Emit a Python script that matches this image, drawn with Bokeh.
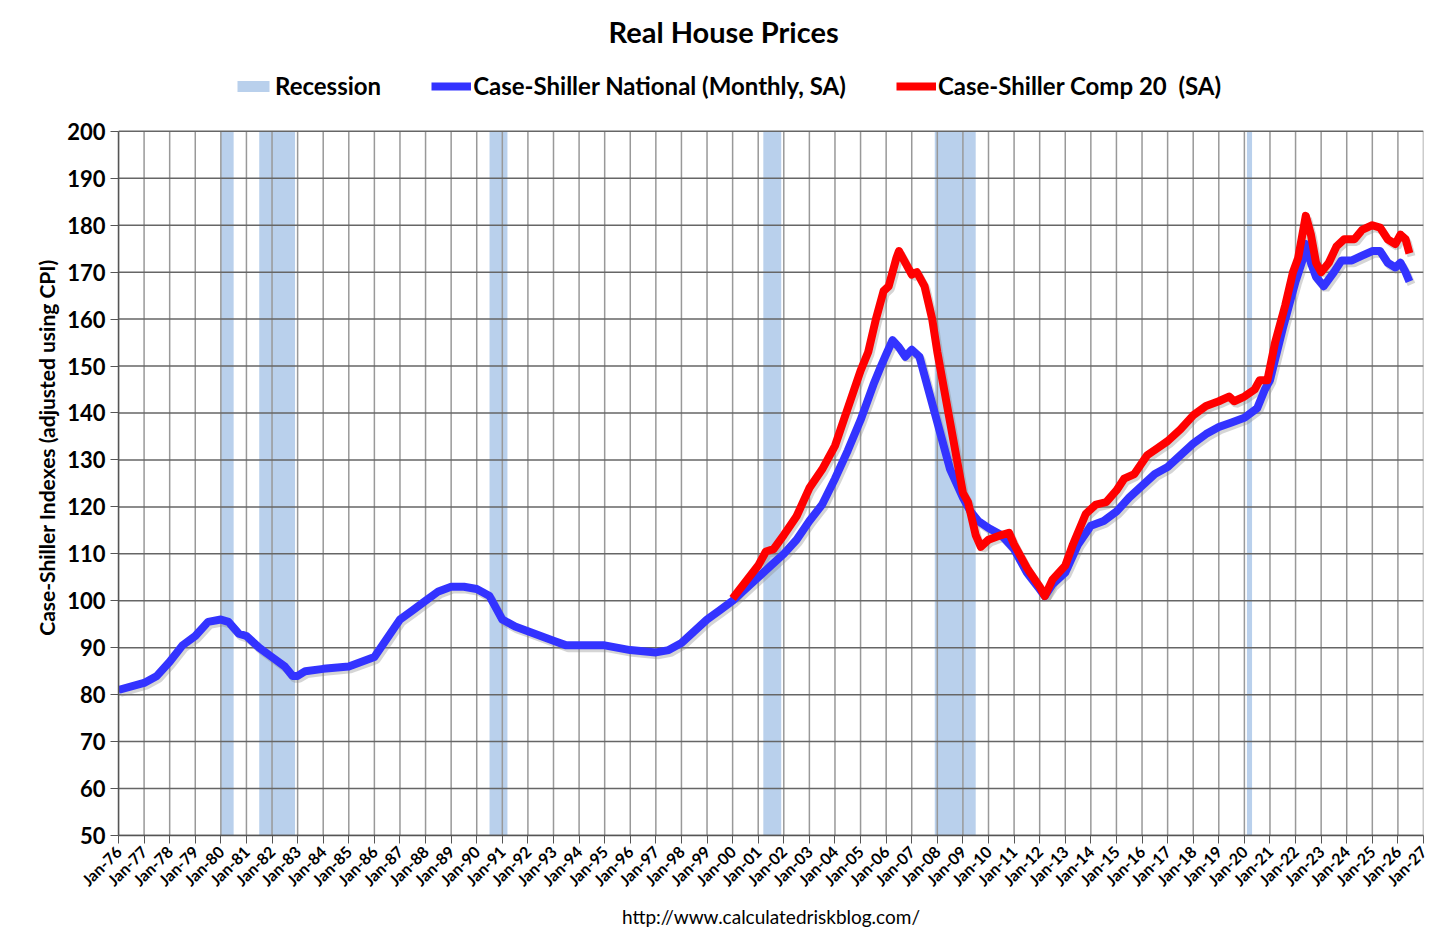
import numpy as np
from bokeh.plotting import figure
from bokeh.models import Legend, LegendItem, FixedTicker, Range1d, Title
from bokeh.embed import file_html
from bokeh.resources import INLINE

nat_x = [1976.0,1977.0,1977.5,1978.0,1978.5,1979.0,1979.5,1980.0,1980.3,1980.7,1981.0,1981.5,1982.0,1982.5,1982.8,1983.0,1983.3,1984.0,1985.0,1986.0,1986.5,1987.0,1987.5,1988.0,1988.5,1989.0,1989.5,1990.0,1990.5,1991.0,1991.5,1992.0,1992.5,1993.0,1993.5,1994.0,1995.0,1996.0,1997.0,1997.5,1998.0,1998.5,1999.0,1999.5,2000.0,2000.5,2001.0,2001.5,2002.0,2002.5,2003.0,2003.5,2004.0,2004.5,2005.0,2005.5,2005.8,2006.0,2006.25,2006.5,2006.75,2007.0,2007.3,2007.6,2008.0,2008.5,2009.0,2009.3,2009.6,2010.0,2010.5,2011.0,2011.5,2012.0,2012.2,2012.5,2013.0,2013.5,2014.0,2014.5,2015.0,2015.5,2016.0,2016.5,2017.0,2017.5,2018.0,2018.5,2019.0,2019.5,2020.0,2020.5,2020.8,2021.0,2021.5,2022.0,2022.3,2022.4,2022.6,2022.8,2023.1,2023.5,2023.8,2024.2,2024.6,2025.0,2025.3,2025.6,2025.9,2026.1,2026.3,2026.45]
nat_y = [81,82.5,84,87,90.5,92.5,95.5,96,95.5,93,92.5,90,88,86,84,84,85,85.5,86,88,92,96,98,100,102,103,103,102.5,101,96,94.5,93.5,92.5,91.5,90.5,90.5,90.5,89.5,89,89.5,91,93.5,96,98,100,102.5,105,107.5,110,113,117,120.5,126,132,138.5,146,150,152.5,155.5,154,152,153.5,152,146,138,128,122,119,117,115.5,114,111,106,102.5,101,103.5,106,112,116,117,119,122,124.5,127,128.5,131,133.5,135.5,137,138,139,141,145,147,158,168,173,176,172,169,167,170,172.5,172.5,173.5,174.5,174.5,172,171,172,170,168]

c20_x = [2000.0,2000.5,2001.0,2001.3,2001.6,2002.0,2002.5,2003.0,2003.5,2004.0,2004.5,2005.0,2005.3,2005.6,2005.9,2006.1,2006.4,2006.5,2006.75,2007.0,2007.2,2007.5,2007.8,2008.0,2008.5,2009.0,2009.2,2009.5,2009.7,2010.0,2010.5,2010.8,2011.0,2011.5,2012.0,2012.2,2012.5,2013.0,2013.3,2013.8,2014.2,2014.6,2015.0,2015.3,2015.7,2016.2,2016.6,2017.0,2017.5,2018.0,2018.5,2019.0,2019.4,2019.6,2020.0,2020.4,2020.6,2020.9,2021.2,2021.6,2021.9,2022.1,2022.3,2022.4,2022.6,2022.8,2023.0,2023.3,2023.6,2023.9,2024.3,2024.6,2025.0,2025.3,2025.6,2025.9,2026.1,2026.3,2026.45]
c20_y = [100.5,104,107.5,110.5,111,114,118,124,128,133,141,149,153,160,166,167,173,174.5,172,169.5,170,167,160,153,138,123,121,114,111.5,113,114,114.5,112,107,103,101,104.5,107.5,112,118.5,120.5,121,123.5,126,127,131,132.5,134,136.5,139.5,141.5,142.5,143.5,142.5,143.5,145,147,147,155,163,170,173,179,182,178,172,170,172,175.5,177,177,179,180,179.5,177,176,178,177,174]

rec_start = [1980.0, 1981.5, 1990.5, 2001.2, 2007.9, 2020.1]
rec_end = [1980.5, 1982.9, 1991.2, 2001.9, 2009.5, 2020.3]

years = list(range(1976, 2028))
tick_labels = {y: "Jan-%02d" % (y % 100) for y in years}
y_ticks = list(range(50, 201, 10))

FONT = "Lato"
YTOP = 215.3
p = figure(frame_width=1305, frame_height=776, output_backend="svg", toolbar_location=None,
           x_range=Range1d(1976, 2027), y_range=Range1d(50, YTOP),
           min_border_left=118, min_border_right=20, min_border_bottom=100, min_border_top=0)
p.outline_line_color = None
p.title = Title(text="Real House Prices", align="left", text_font=FONT,
                text_font_size="29px", text_font_style="bold", text_color="black",
                standoff=22, offset=490)

rec = p.quad(left=rec_start, right=rec_end, bottom=50, top=200,
             fill_color="#b9d0ec", line_color=None, level="underlay")

p.xgrid.visible = False
p.ygrid.visible = False
p.segment(x0=years, x1=years, y0=[50] * len(years), y1=[200] * len(years),
          line_color="#999999", line_width=1.5, level="underlay")
p.segment(x0=[1976] * len(y_ticks), x1=[2027] * len(y_ticks), y0=y_ticks, y1=y_ticks,
          line_color="#666666", line_width=1.5, level="underlay")

p.line([x + 0.08 for x in nat_x], [y - 0.6 for y in nat_y], line_width=8, color="#888888", alpha=0.35)
p.line([x + 0.08 for x in c20_x], [y - 0.6 for y in c20_y], line_width=8, color="#888888", alpha=0.35)
nat = p.line(nat_x, nat_y, line_width=8, color="#3333ff", line_join="round")
c20 = p.line(c20_x, c20_y, line_width=8, color="#ff0000", line_join="round")

legend = Legend(items=[LegendItem(label="Recession", renderers=[rec]),
                       LegendItem(label="Case-Shiller National (Monthly, SA)", renderers=[nat]),
                       LegendItem(label="Case-Shiller Comp 20  (SA)", renderers=[c20])],
                orientation="horizontal", location=(115, 735), border_line_color=None,
                label_text_font=FONT, label_text_font_size="24px", label_text_font_style="bold",
                label_text_color="black",
                glyph_width=40, glyph_height=14, spacing=50, padding=4, margin=0,
                label_standoff=2, background_fill_alpha=0)
p.add_layout(legend, "center")

p.xaxis.ticker = FixedTicker(ticks=years)
p.xaxis.major_label_overrides = tick_labels
p.xaxis.major_label_orientation = np.pi / 4
p.xaxis.major_label_text_font = FONT
p.xaxis.major_label_text_font_size = "16px"
p.xaxis.major_label_text_font_style = "bold"
p.xaxis.minor_tick_line_color = None
p.xaxis.major_tick_out = 8
p.xaxis.major_tick_in = 0
p.xaxis.axis_label = "http://www.calculatedriskblog.com/"
p.xaxis.axis_label_text_font = FONT
p.xaxis.axis_label_text_font_size = "19px"
p.xaxis.axis_label_text_font_style = "normal"
p.xaxis.axis_label_standoff = 6

p.yaxis.ticker = FixedTicker(ticks=y_ticks)
p.yaxis.bounds = (50, 200)
p.yaxis.major_label_text_font = FONT
p.yaxis.major_label_text_font_size = "22px"
p.yaxis.major_label_text_font_style = "bold"
p.yaxis.minor_tick_line_color = None
p.yaxis.major_tick_out = 8
p.yaxis.major_tick_in = 0
p.yaxis.axis_label = "Case-Shiller Indexes (adjusted using CPI)"
p.yaxis.axis_label_text_font = FONT
p.yaxis.axis_label_text_font_size = "21px"
p.yaxis.axis_label_text_font_style = "bold"
p.axis.axis_line_color = "#555555"
p.axis.major_tick_line_color = "#555555"
p.axis.axis_line_width = 1.5
p.axis.major_label_text_color = "black"
p.axis.axis_label_text_color = "black"

open("out.html", "w").write(file_html(p, INLINE))
